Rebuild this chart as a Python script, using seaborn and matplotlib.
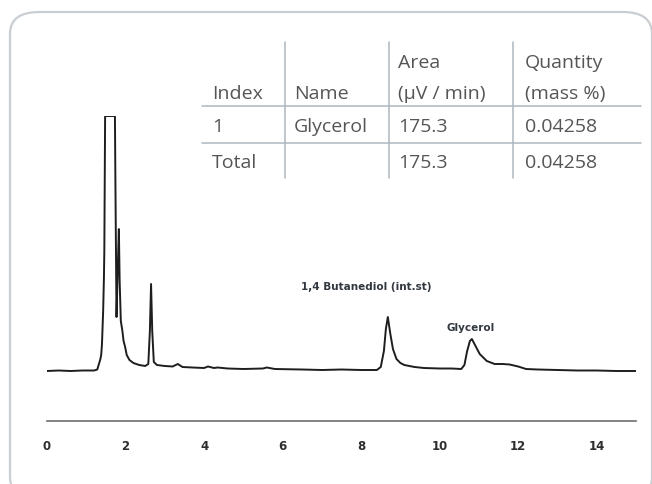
import matplotlib
matplotlib.use("Agg")
import matplotlib.pyplot as plt
from matplotlib.lines import Line2D
from matplotlib.patches import FancyBboxPatch
import pandas as pd
import seaborn as sns

# chromatogram trace: retention time (min) and detector response (arb.)
time_min = [0.0, 0.3, 0.6, 0.9, 1.2, 1.28, 1.33, 1.36, 1.38, 1.40, 1.43, 1.45, 1.46, 1.48,
            1.73, 1.74, 1.77, 1.80, 1.83, 1.85, 1.88, 1.92, 1.95, 1.99, 2.03, 2.1, 2.2, 2.35,
            2.5, 2.58, 2.62, 2.65, 2.68, 2.72, 2.8, 3.0, 3.2, 3.33, 3.45, 3.7, 4.0, 4.1, 4.25,
            4.35, 4.6, 5.0, 5.5, 5.6, 5.8, 6.5, 7.0, 7.5, 8.0, 8.4, 8.5, 8.58, 8.63, 8.68,
            8.74, 8.81, 8.9, 9.0, 9.1, 9.36, 9.6, 10.0, 10.3, 10.55, 10.63, 10.7, 10.77, 10.82,
            10.9, 11.02, 11.2, 11.4, 11.6, 11.78, 12.0, 12.2, 12.5, 13.0, 13.5, 14.0, 14.5, 15.0]
response = [0, 0.5, 0, 0.5, 0.5, 1.5, 8, 12, 16, 27, 60, 94, 120, 255,
            255, 200, 54, 100, 142, 90, 50, 40, 30, 24, 16, 11, 8, 6,
            5, 7, 40, 87, 40, 9, 6, 5, 4.5, 7, 4, 3.5, 3, 4.5, 3,
            3.5, 2.5, 2, 2.5, 3.5, 2, 1.5, 1, 1.5, 1, 1, 4, 20, 42, 54,
            38, 22, 12, 8, 6, 4, 3, 2.5, 2.5, 2, 6, 20, 30, 32,
            26, 17, 10, 7, 7, 6.5, 4.5, 2, 1.5, 1, 0.5, 0.5, 0, 0]

peak_labels = ["1,4 Butanediol (int.st)", "Glycerol"]
peak_label_x = [8.12, 10.8]
peak_label_y = [85, 44]

x_ticks = [0, 2, 4, 6, 8, 10, 12, 14]

table_header = ["Index", "Name", "Area\n(µV / min)", "Quantity\n(mass %)"]
table_rows = [["1", "Glycerol", "175.3", "0.04258"],
              ["Total", "", "175.3", "0.04258"]]

W, H = 652, 485


def fx(px):
    return px / W


def fy(py):
    return 1 - py / H


sns.set_style("white")
plt.rcParams['font.family'] = ['Open Sans', 'DejaVu Sans']

fig = plt.figure(figsize=(6.52, 4.85), dpi=100)
fig.patch.set_facecolor("white")

# rounded frame
frame = FancyBboxPatch((fx(10), fy(500)), fx(642), (500 - 13) / H,
                       boxstyle="round,pad=0,rounding_size=0.045",
                       transform=fig.transFigure, facecolor="none",
                       edgecolor="#c9ced3", linewidth=1.6)
fig.patches.append(frame)

ax = fig.add_axes([fx(47), fy(422), fx(636) - fx(47), (422 - 117) / H])
df = pd.DataFrame({"time": time_min, "response": response})
sns.lineplot(data=df, x="time", y="response", sort=False, estimator=None,
             color="#1e1e1e", linewidth=1.4, ax=ax)

ax.set_xlim(0, 15)
ax.set_ylim(-50, 255)
ax.set_facecolor("none")
for side in ["top", "right", "left"]:
    ax.spines[side].set_visible(False)
ax.spines["bottom"].set_color("#6d6d6d")
ax.spines["bottom"].set_linewidth(1.2)
ax.set_yticks([])
ax.set_xticks(x_ticks)
ax.set_xticklabels([str(t) for t in x_ticks])
ax.tick_params(axis="x", direction="out", length=3, width=1, color="#6d6d6d",
               pad=10, labelsize=8.5, labelcolor="#2e2e2e")
for lab in ax.get_xticklabels():
    lab.set_fontweight("bold")
    lab.set_family(["Liberation Sans Narrow", "DejaVu Sans"])
ax.set_xlabel("")
ax.set_ylabel("")

for txt, x, y in zip(peak_labels, peak_label_x, peak_label_y):
    ax.text(x, y, txt, ha="center", va="center", fontsize=7.5, fontweight="bold",
            color="#333840", family=["Liberation Sans Narrow", "DejaVu Sans"])

# results table
col_left = [212, 294, 398, 525]
header_lines_y = [63, 94]
row_y = [127, 163]
txt_color = "#555555"
line_color = "#aeb7be"
for cx, head in zip(col_left, table_header):
    parts = head.split("\n")
    ys = header_lines_y[-len(parts):]
    for part, yy in zip(parts, ys):
        fig.text(fx(cx), fy(yy), part, ha="left", va="center", fontsize=14,
                 color=txt_color)
for ry, row in zip(row_y, table_rows):
    for cx, val in zip(col_left, row):
        fig.text(fx(cx), fy(ry), val, ha="left", va="center", fontsize=14,
                 color=txt_color)

for hy in [107, 144]:
    fig.add_artist(Line2D([fx(202), fx(641)], [fy(hy), fy(hy)], transform=fig.transFigure,
                          color=line_color, linewidth=1.1))
for vx in [285, 389, 513]:
    fig.add_artist(Line2D([fx(vx), fx(vx)], [fy(43), fy(179)], transform=fig.transFigure,
                          color=line_color, linewidth=1.1))

fig.savefig("out.png", dpi=100)
